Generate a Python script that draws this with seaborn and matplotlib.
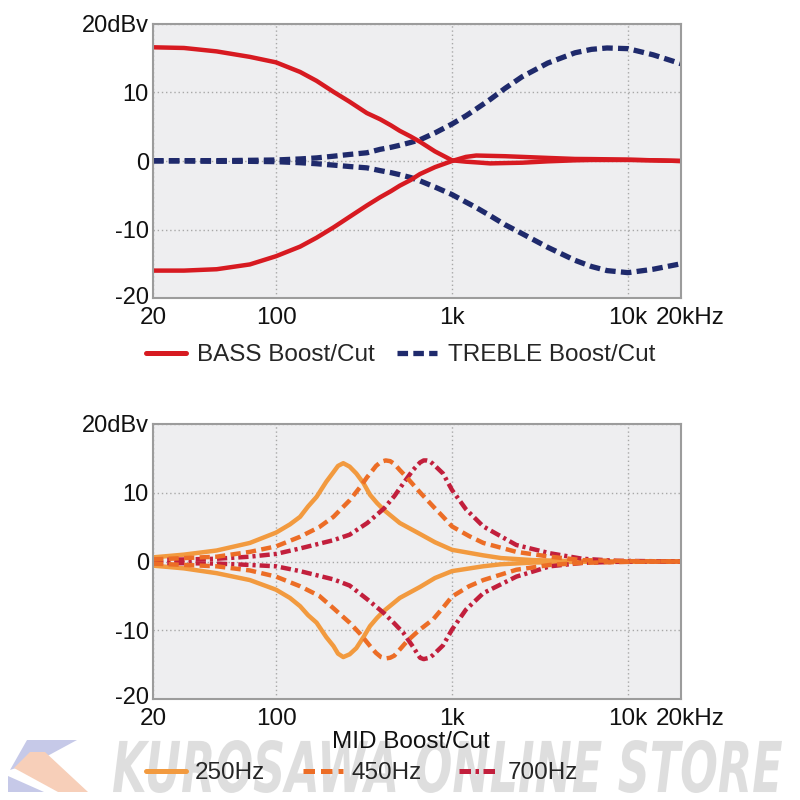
import matplotlib
matplotlib.use("Agg")
import matplotlib.pyplot as plt
import seaborn as sns
import numpy as np
import pandas as pd
from matplotlib.lines import Line2D
from matplotlib.ticker import FixedLocator, NullLocator
from matplotlib.transforms import ScaledTranslation, Affine2D
from matplotlib.textpath import TextPath
from matplotlib.patches import PathPatch, Polygon
from matplotlib.font_manager import FontProperties

# ---------------- data ----------------
x_ticks = [20, 100, 1000, 10000, 20000]
x_labels = ["20", "100", "1k", "10k", "20kHz"]
y_ticks = [-20, -10, 0, 10, 20]
y_labels = ["-20", "-10", "0", "10", "20dBv"]

tone_freq = [20, 30, 46, 71, 100, 137, 170, 212, 260, 328, 390, 450, 505, 580, 658,
             800, 1000, 1200, 1373, 1650, 2000, 2500, 3500, 5000, 6200, 7600, 10000,
             13900, 20000]
bass_boost = [16.6, 16.5, 16.0, 15.2, 14.4, 13.0, 11.7, 10.1, 8.7, 7.0, 6.1, 5.2,
              4.4, 3.6, 2.8, 1.4, 0.1, -0.1, -0.2, -0.35, -0.3, -0.25, -0.05, 0.1,
              0.15, 0.15, 0.15, 0.1, 0.0]
bass_cut = [-16.0, -16.0, -15.8, -15.1, -13.9, -12.5, -11.2, -9.7, -8.2, -6.5, -5.3,
            -4.4, -3.6, -2.8, -1.9, -0.9, 0.0, 0.6, 0.8, 0.75, 0.7, 0.6, 0.45, 0.3,
            0.28, 0.25, 0.2, 0.1, 0.0]
treble_boost = [0.05, 0.05, 0.05, 0.1, 0.15, 0.3, 0.45, 0.7, 0.95, 1.2, 1.7, 2.0,
                2.3, 2.7, 3.1, 4.1, 5.4, 6.6, 7.6, 9.0, 10.6, 12.3, 14.3, 15.8, 16.3,
                16.5, 16.4, 15.5, 14.2]
treble_cut = [0.0, 0.0, -0.05, -0.05, -0.1, -0.25, -0.4, -0.6, -0.8, -1.0, -1.4,
              -1.7, -2.0, -2.4, -2.9, -3.8, -4.9, -6.0, -6.8, -8.0, -9.3, -10.6,
              -12.6, -14.5, -15.4, -16.0, -16.3, -15.8, -15.0]

mid250_freq = [20, 30, 46, 71, 100, 120, 137, 152, 170, 193, 212, 225, 241, 262, 286,
               314, 342, 375, 410, 505, 658, 800, 1000, 1500, 1900, 2900, 5000, 10000,
               20000]
mid250_boost = [0.6, 1.0, 1.6, 2.7, 4.2, 5.4, 6.5, 8.0, 9.4, 11.6, 13.0, 13.9, 14.3,
                13.8, 12.8, 11.4, 9.7, 8.5, 7.5, 5.6, 4.0, 2.8, 1.7, 0.9, 0.5, 0.2,
                0.05, 0.0, 0.0]
mid250_cut = [-0.6, -1.0, -1.7, -2.7, -4.1, -5.3, -6.5, -7.8, -8.9, -11.0, -12.3,
              -13.4, -13.9, -13.5, -12.6, -11.0, -9.4, -8.2, -7.2, -5.3, -3.7, -2.4,
              -1.4, -0.7, -0.4, -0.15, -0.05, 0.0, 0.0]

mid450_freq = [20, 46, 71, 100, 137, 176, 212, 262, 300, 330, 350, 370, 395, 420, 445,
               470, 505, 555, 650, 782, 890, 1000, 1250, 1506, 2320, 3600, 5500,
               10000, 20000]
mid450_boost = [0.3, 0.7, 1.4, 2.2, 3.6, 5.0, 6.5, 8.9, 10.8, 12.3, 13.1, 13.9, 14.5,
                14.7, 14.6, 14.2, 13.3, 12.2, 10.2, 8.0, 6.5, 5.1, 3.7, 2.7, 1.4, 0.7,
                0.2, 0.05, 0.0]
mid450_cut = [-0.3, -0.7, -1.3, -2.2, -3.6, -5.0, -6.8, -8.9, -10.5, -11.8, -12.6,
              -13.3, -13.9, -14.1, -14.0, -13.7, -12.8, -11.6, -10.0, -8.4, -6.7,
              -5.1, -3.6, -2.7, -1.2, -0.5, -0.2, -0.05, 0.0]

mid700_freq = [20, 46, 71, 100, 137, 212, 262, 330, 410, 470, 530, 600, 658, 690, 716,
               745, 780, 889, 1000, 1200, 1506, 2320, 3600, 5500, 8600, 20000]
mid700_boost = [0.2, 0.4, 0.7, 1.1, 1.9, 3.1, 3.9, 5.6, 7.7, 9.5, 11.4, 13.3, 14.4,
                14.7, 14.7, 14.6, 14.2, 12.8, 10.4, 7.6, 5.1, 2.4, 1.2, 0.4, 0.1, 0.0]
mid700_cut = [-0.2, -0.3, -0.5, -0.7, -1.4, -2.6, -3.5, -5.5, -7.5, -9.0, -10.4,
              -12.4, -14.0, -14.2, -14.1, -14.0, -13.6, -12.2, -9.9, -7.0, -4.6,
              -2.2, -0.7, -0.2, -0.05, 0.0]

# ---------------- style ----------------
sns.set_style("white")
plt.rcParams["font.family"] = ["Liberation Sans", "DejaVu Sans"]

RED = "#d71a21"
NAVY = "#1f2a6c"
LORANGE = "#f29a3f"
ORANGE = "#ec6d26"
CRIMSON = "#c21f3c"
BG = "#eeeef0"
FS = 17.5

fig = plt.figure(figsize=(8, 8), dpi=100)
ax1 = fig.add_axes([153 / 800, 1 - 298 / 800, 528 / 800, 274 / 800])
ax2 = fig.add_axes([153 / 800, 1 - 699 / 800, 528 / 800, 275 / 800])


def style_axes(ax):
    ax.set_xscale("log")
    ax.set_xlim(20, 20000)
    ax.set_ylim(-20, 20)
    ax.set_facecolor(BG)
    ax.xaxis.set_major_locator(FixedLocator(x_ticks))
    ax.xaxis.set_minor_locator(NullLocator())
    ax.set_xticklabels(x_labels)
    ax.set_yticks(y_ticks)
    ax.set_yticklabels(y_labels)
    ax.tick_params(axis="both", length=0, labelsize=FS, colors="#111111")
    ax.tick_params(axis="x", pad=6.5)
    ax.tick_params(axis="y", pad=3, labelsize=17)
    ax.grid(True, color="#a8a8a8", linestyle=(0, (1, 2)), linewidth=1.0)
    ax.set_axisbelow(True)
    for s in ax.spines.values():
        s.set_visible(True)
        s.set_color("#9c9c9c")
        s.set_linewidth(1.5)
    ax.set_xlabel("")
    ax.set_ylabel("")
    tick = ax.xaxis.get_major_ticks()[-1]
    tick.label1.set_transform(tick.label1.get_transform()
                              + ScaledTranslation(9 / 100, 0, fig.dpi_scale_trans))
    ylab = ax.yaxis.get_major_ticks()[0]
    ylab.label1.set_transform(ylab.label1.get_transform()
                              + ScaledTranslation(0, 3 / 100, fig.dpi_scale_trans))


# ---------------- top chart ----------------
dash_blue = (0, (2.0, 1.0))
for vals in (treble_boost, treble_cut):
    sns.lineplot(x=tone_freq, y=vals, ax=ax1, color=NAVY, linewidth=3.8,
                 linestyle=dash_blue)
for vals in (bass_boost, bass_cut):
    sns.lineplot(x=tone_freq, y=vals, ax=ax1, color=RED, linewidth=3.2)
style_axes(ax1)

h_top = [Line2D([], [], color=RED, lw=3.6),
         Line2D([], [], color=NAVY, lw=3.8, linestyle=dash_blue)]
ax1.legend(h_top, ["BASS Boost/Cut", "TREBLE Boost/Cut"], loc="center left",
           bbox_to_anchor=(146 / 800, 1 - 355 / 800), bbox_transform=fig.transFigure,
           ncol=2, frameon=False, fontsize=FS, handlelength=1.65, handletextpad=0.45,
           columnspacing=0.9, borderpad=0, borderaxespad=0)

# ---------------- bottom chart ----------------
dash_450 = (0, (2.3, 1.2))
dash_700 = (0, (2.3, 0.9, 0.7, 0.9))
for vals in (mid250_boost, mid250_cut):
    sns.lineplot(x=mid250_freq, y=vals, ax=ax2, color=LORANGE, linewidth=3.2)
for vals in (mid700_boost, mid700_cut):
    sns.lineplot(x=mid700_freq, y=vals, ax=ax2, color=CRIMSON, linewidth=3.2,
                 linestyle=dash_700)
for vals in (mid450_boost, mid450_cut):
    sns.lineplot(x=mid450_freq, y=vals, ax=ax2, color=ORANGE, linewidth=3.2,
                 linestyle=dash_450)
style_axes(ax2)

fig.text(411 / 800, 1 - 742 / 800, "MID Boost/Cut", ha="center", va="center",
         fontsize=FS, color="#111111")
h_mid = [Line2D([], [], color=LORANGE, lw=3.6),
         Line2D([], [], color=ORANGE, lw=3.6, linestyle=dash_450),
         Line2D([], [], color=CRIMSON, lw=3.6, linestyle=dash_700)]
ax2.legend(h_mid, ["250Hz", "450Hz", "700Hz"], loc="center left",
           bbox_to_anchor=(146 / 800, 1 - 773 / 800), bbox_transform=fig.transFigure,
           ncol=3, frameon=False, fontsize=FS, handlelength=1.65, handletextpad=0.35,
           columnspacing=1.55, borderpad=0, borderaxespad=0)

# ---------------- watermark ----------------
fp = FontProperties(family="DejaVu Sans", weight="bold", style="italic")
tp = TextPath((0, 0), "KUROSAWA ONLINE STORE", prop=fp, size=50)
ext = tp.get_extents()
x0, x1, ytop, ybot = 113, 782, 740, 793
sx = (x1 - x0) / ext.width / 800
sy = (ybot - ytop) / ext.height / 800
tr = (Affine2D().translate(-ext.x0, -ext.y0).scale(sx, sy)
      .translate(x0 / 800, 1 - ybot / 800) + fig.transFigure)
fig.patches.append(PathPatch(tp, transform=tr, facecolor="#d9d9d9", edgecolor="none",
                             alpha=0.85, zorder=-5))


def px(pts):
    return [(a / 800, 1 - b / 800) for a, b in pts]


logo_blue1 = [(27, 740), (77, 740), (40, 760), (10, 770)]
logo_orange = [(30, 752), (45, 752), (88, 792), (58, 792), (14, 768)]
logo_blue2 = [(8, 776), (44, 792), (8, 792)]
for pts, col in ((logo_blue1, "#c6c9e8"), (logo_orange, "#f7cfb9"),
                 (logo_blue2, "#c6c9e8")):
    fig.patches.append(Polygon(px(pts), closed=True, transform=fig.transFigure,
                               facecolor=col, edgecolor="none", zorder=-6))

fig.savefig("out.png", dpi=100)
